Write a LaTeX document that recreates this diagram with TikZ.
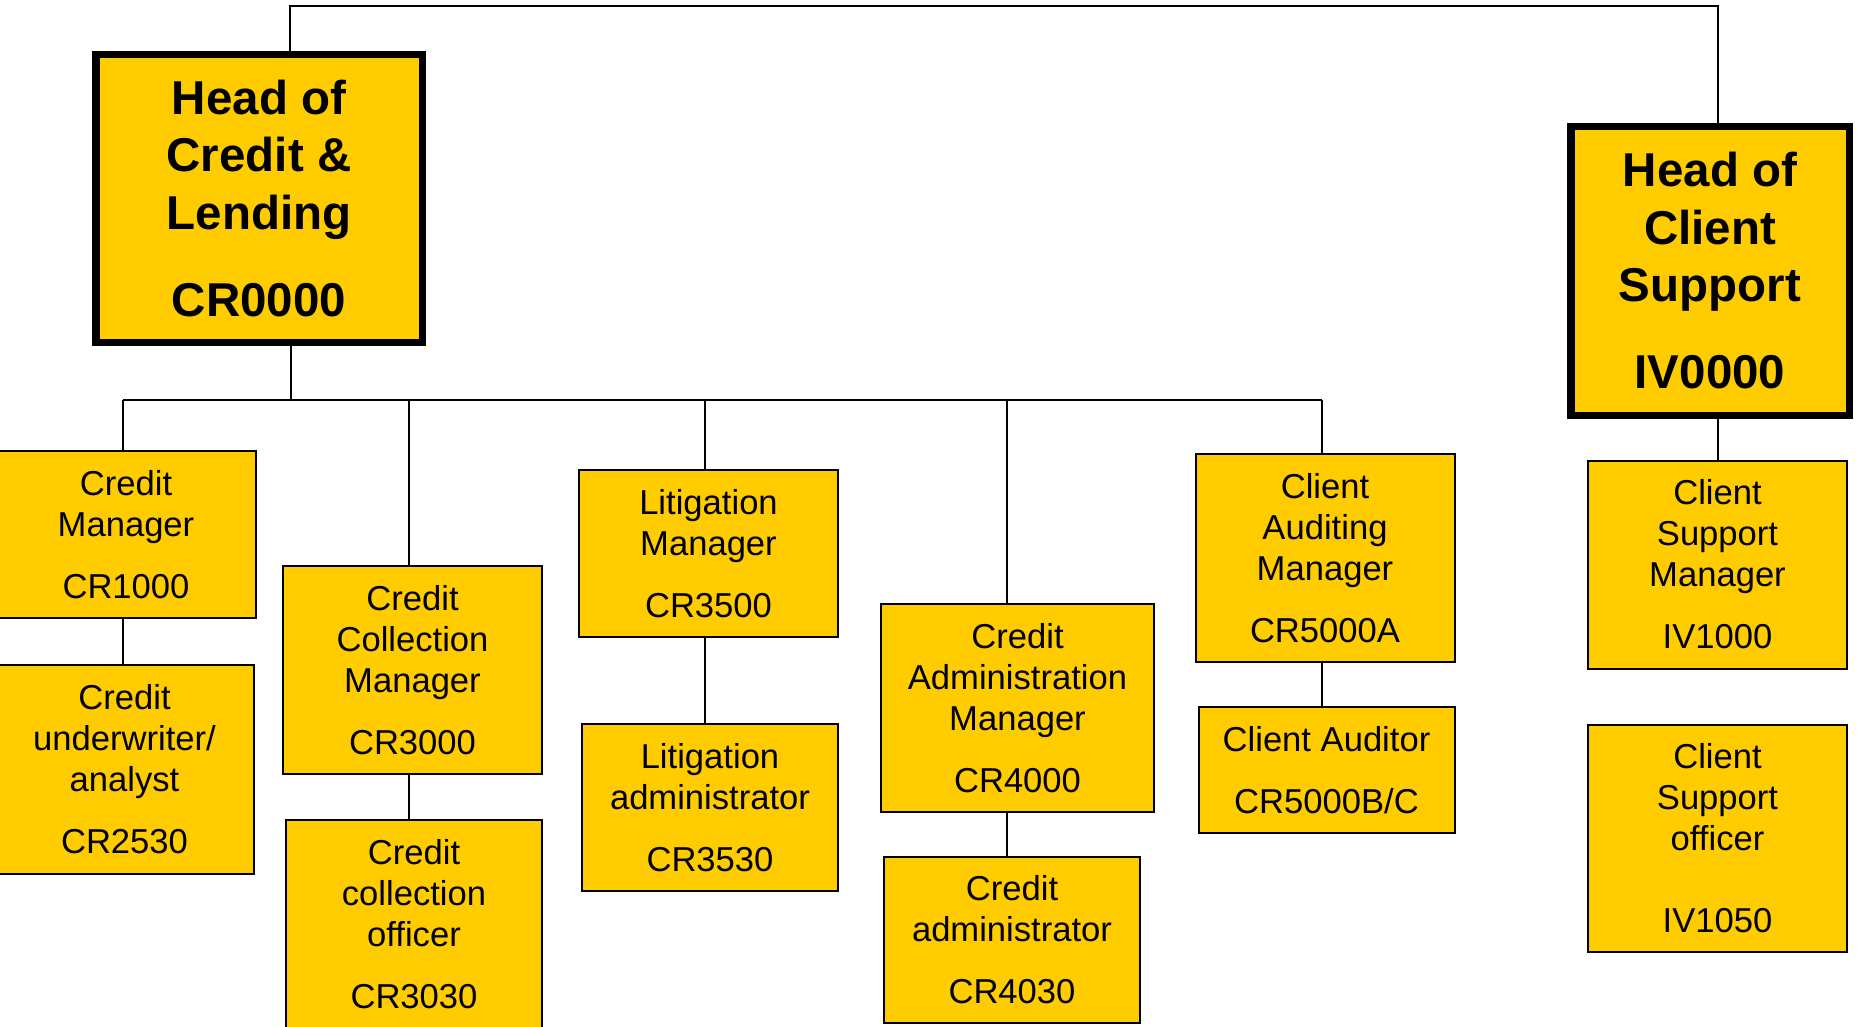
\documentclass[tikz,border=0pt]{standalone}
\usepackage{fontspec}
\setmainfont{Liberation Sans}
\usetikzlibrary{positioning, calc}
\definecolor{postyellow}{RGB}{255,204,0}
\tikzset{
  post/.style={
    draw,
    rectangle,
    line width=2pt,
    inner sep=0pt,
    align=center,
    fill=postyellow,
    font=\fontsize{34.6}{41}\selectfont
  },
  headpost/.style={
    post,
    line width=7.5pt,
    font=\fontsize{47.5}{57.5}\selectfont\bfseries
  },
  link/.style={
    draw=black,
    line width=1.6pt
  }
}

\begin{document}
\begin{tikzpicture}[x=1pt, y=-1pt]
    \clip (0,0) rectangle (1861,1027);
    \fill[white] (0,0) rectangle (1861,1027);

    % heads
    \node[headpost, minimum width=326.5pt, minimum height=287.5pt] (hcl) at (259,198.5) {Head of\\Credit \&\\Lending\\[29.5pt]CR0000};
    \node[headpost, minimum width=278.5pt, minimum height=288.5pt] (hcs) at (1710,271) {Head of\\Client\\Support\\[29.5pt]IV0000};

    % credit & lending
    \node[post, minimum width=259pt, minimum height=167pt] (cm) at (126,534.5) {Credit\\Manager\\[21pt]CR1000};
    \node[post, minimum width=259pt, minimum height=209pt] (cu) at (124.5,769.5) {Credit\\underwriter/\\analyst\\[21pt]CR2530};
    \node[post, minimum width=259pt, minimum height=208pt] (ccm) at (412.5,670) {Credit\\Collection\\Manager\\[21pt]CR3000};
    \node[post, minimum width=256pt, minimum height=208pt] (cco) at (414,924) {Credit\\collection\\officer\\[21pt]CR3030};
    \node[post, minimum width=259pt, minimum height=167pt] (lm) at (708.5,553.5) {Litigation\\Manager\\[21pt]CR3500};
    \node[post, minimum width=256pt, minimum height=167pt] (la) at (710,807.5) {Litigation\\administrator\\[21pt]CR3530};
    \node[post, minimum width=273pt, minimum height=208pt] (cam) at (1017.5,708) {Credit\\Administration\\Manager\\[21pt]CR4000};
    \node[post, minimum width=256pt, minimum height=166pt] (cad) at (1012,940) {Credit\\administrator\\[21pt]CR4030};
    \node[post, minimum width=259pt, minimum height=208pt] (caum) at (1325,558) {Client\\Auditing\\Manager\\[21pt]CR5000A};
    \node[post, minimum width=256pt, minimum height=126pt] (caud) at (1326.5,770) {Client Auditor\\[21pt]CR5000B/C};

    % client support
    \node[post, minimum width=259pt, minimum height=208pt] (csm) at (1717.5,564.5) {Client\\Support\\Manager\\[21pt]IV1000};
    \node[post, minimum width=259pt, minimum height=227pt] (cso) at (1717.5,838.5) {Client\\Support\\officer\\[41pt]IV1050};

    % junctions
    \coordinate (topL) at (290,6);
    \coordinate (topR) at (1718,6);
    \coordinate (jh) at (291,401);
    \coordinate (j1) at (123,400);
    \coordinate (j2) at (409,400);
    \coordinate (j3) at (705,400);
    \coordinate (j4) at (1007,400);
    \coordinate (j5) at (1322,400);

    \draw[link] (hcl.north -| topL) -- (topL) -- (topR) -- (hcs.north -| topR);
    \draw[link] (hcs.south -| topR) -- (csm.north -| topR);
    \draw[link] (hcl.south -| jh) -- (jh);
    \draw[link, line width=2.8pt] (j1) -- (j5);

    \draw[link] (j1) -- (cm.north -| j1);
    \draw[link] (cm.south -| j1) -- (cu.north -| j1);
    \draw[link] (j2) -- (ccm.north -| j2);
    \draw[link] (ccm.south -| j2) -- (cco.north -| j2);
    \draw[link] (j3) -- (lm.north -| j3);
    \draw[link] (lm.south -| j3) -- (la.north -| j3);
    \draw[link] (j4) -- (cam.north -| j4);
    \draw[link] (cam.south -| j4) -- (cad.north -| j4);
    \draw[link] (j5) -- (caum.north -| j5);
    \draw[link] (caum.south -| j5) -- (caud.north -| j5);
\end{tikzpicture}
\end{document}
